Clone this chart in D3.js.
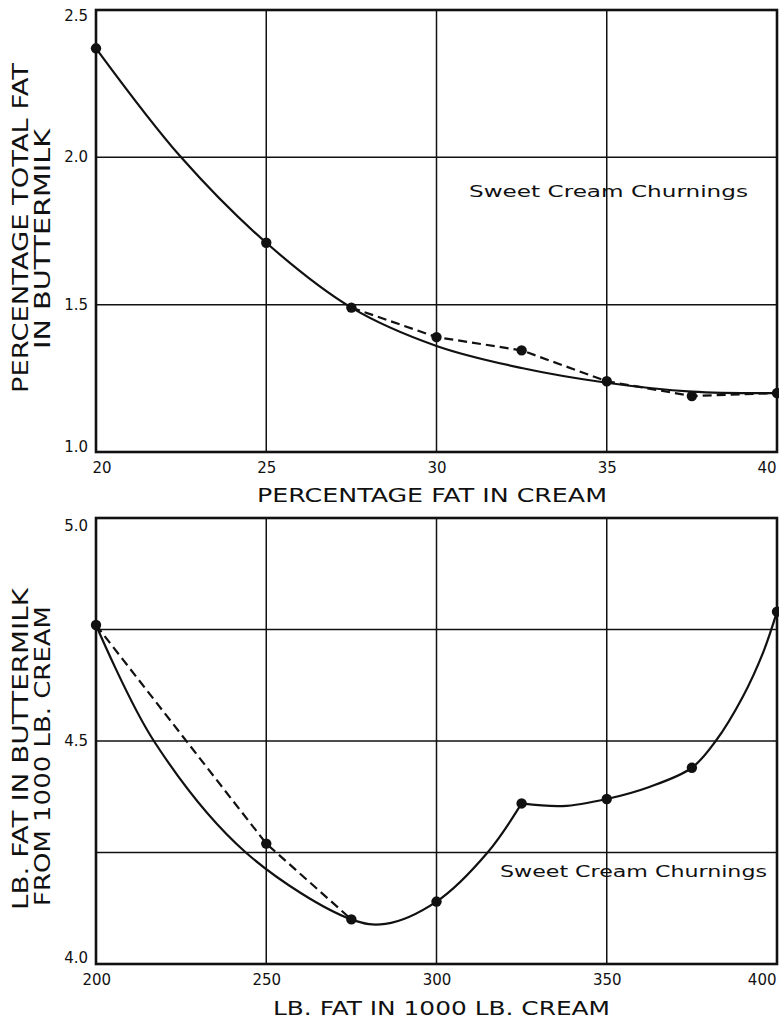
<!DOCTYPE html>
<html>
<head>
<meta charset="utf-8">
<script src="https://cdn.jsdelivr.net/npm/d3@7"></script>
<style>
  html, body { margin: 0; padding: 0; background: #fff; }
  svg { display: block; }
  text { font-family: "DejaVu Sans", sans-serif; fill: #111; }
  .tick text { font-size: 15px; }
</style>
</head>
<body>
<svg id="chart" width="779" height="1019"></svg>
<script>
// ---------- Top panel data ----------
const topPointsX = [20, 25, 27.5, 30, 32.5, 35, 37.5, 40];
const topPointsY = [2.37, 1.71, 1.49, 1.39, 1.345, 1.24, 1.19, 1.20];
const topCurveX = [20, 22.5, 25, 27.5, 30, 32.5, 35, 37.5, 40];
const topCurveY = [2.37, 2.00, 1.71, 1.49, 1.36, 1.285, 1.235, 1.205, 1.20];
const topDashX = [27.5, 30, 32.5, 35, 37.5, 40];
const topDashY = [1.49, 1.39, 1.345, 1.24, 1.19, 1.20];
const topXTicks = [20, 25, 30, 35, 40];
const topYTicks = [1.0, 1.5, 2.0, 2.5];
const topYGrid = [1.5, 2.0];
const topXGrid = [25, 30, 35];

// ---------- Bottom panel data ----------
const botPointsX = [200, 250, 275, 300, 325, 350, 375, 400];
const botPointsY = [4.76, 4.27, 4.10, 4.14, 4.36, 4.37, 4.44, 4.79];
const botCurveAX = [200, 217, 244, 275, 285, 300, 315, 325];
const botCurveAY = [4.76, 4.50, 4.25, 4.10, 4.09, 4.14, 4.25, 4.36];
const botCurveBX = [325, 337, 350, 362.5, 375, 382, 390, 396, 400];
const botCurveBY = [4.36, 4.354, 4.37, 4.397, 4.44, 4.50, 4.60, 4.70, 4.79];
const botDashX = [200, 250, 275];
const botDashY = [4.76, 4.27, 4.10];
const botXTicks = [200, 250, 300, 350, 400];
const botYTicks = [4.0, 4.5, 5.0];
const botYGrid = [4.25, 4.5, 4.75];
const botXGrid = [250, 300, 350];

const labelText = "Sweet Cream Churnings";

const svg = d3.select("#chart");
svg.append("rect").attr("width", 779).attr("height", 1019).attr("fill", "#fff");

function zip(xs, ys) { return xs.map((x, i) => ({x: x, y: ys[i]})); }

function panel(cfg) {
  const x = d3.scaleLinear().domain(cfg.xDomain).range([cfg.left, cfg.right]);
  const y = d3.scaleLinear().domain(cfg.yDomain).range([cfg.bottom, cfg.top]);
  const g = svg.append("g");

  // grid
  g.selectAll(".hg").data(cfg.yGrid).enter().append("line")
    .attr("x1", cfg.left).attr("x2", cfg.right)
    .attr("y1", d => y(d)).attr("y2", d => y(d))
    .attr("stroke", "#111").attr("stroke-width", 1.5);
  g.selectAll(".vg").data(cfg.xGrid).enter().append("line")
    .attr("y1", cfg.top).attr("y2", cfg.bottom)
    .attr("x1", d => x(d)).attr("x2", d => x(d))
    .attr("stroke", "#111").attr("stroke-width", 1.5);

  // frame
  g.append("rect").attr("x", cfg.left).attr("y", cfg.top)
    .attr("width", cfg.right - cfg.left).attr("height", cfg.bottom - cfg.top)
    .attr("fill", "none").attr("stroke", "#111").attr("stroke-width", 2.6);

  // axes (labels only)
  const xAxis = d3.axisBottom(x).tickValues(cfg.xTicks).tickSize(0).tickPadding(0)
    .tickFormat(d3.format("d"));
  const xa = g.append("g").attr("transform", `translate(0,${cfg.bottom})`).call(xAxis);
  xa.attr("font-size", 15).attr("font-family", "DejaVu Sans");
  xa.select(".domain").remove();
  xa.selectAll("text").attr("dy", null).attr("y", cfg.xTickDy)
    .attr("fill", "#111")
    .attr("dominant-baseline", "middle")
    .attr("text-anchor", (d, i) => i === 0 ? "start" : (i === cfg.xTicks.length - 1 ? "end" : "middle"))
    .attr("dx", (d, i) => i === 0 ? cfg.firstXdx : (i === cfg.xTicks.length - 1 ? -1 : 0));

  const yAxis = d3.axisLeft(y).tickValues(cfg.yTicks).tickSize(0).tickPadding(8)
    .tickFormat(d3.format(".1f"));
  const ya = g.append("g").attr("transform", `translate(${cfg.left},0)`).call(yAxis);
  ya.attr("font-size", 15).attr("font-family", "DejaVu Sans");
  ya.select(".domain").remove();
  ya.selectAll("text").attr("dy", null)
    .attr("fill", "#111")
    .attr("dominant-baseline", "middle")
    .attr("y", (d, i) => i === 0 ? cfg.firstYdy : (i === cfg.yTicks.length - 1 ? cfg.lastYdy : 0));

  // lines
  const line = d3.line().x(d => x(d.x)).y(d => y(d.y)).curve(d3.curveCatmullRom.alpha(0.5));
  cfg.curves.forEach(c => {
    g.append("path").attr("d", line(c)).attr("fill", "none")
      .attr("stroke", "#111").attr("stroke-width", 2.2);
  });
  const dline = d3.line().x(d => x(d.x)).y(d => y(d.y));
  g.append("path").attr("d", dline(cfg.dash)).attr("fill", "none")
    .attr("stroke", "#111").attr("stroke-width", 2.2).attr("stroke-dasharray", "9,5");

  // points
  g.selectAll(".pt").data(cfg.points).enter().append("circle")
    .attr("cx", d => x(d.x)).attr("cy", d => y(d.y)).attr("r", 5.2).attr("fill", "#111");

  // annotation
  g.append("text").attr("x", cfg.noteX).attr("y", cfg.noteY)
    .attr("font-size", 16).attr("textLength", cfg.noteLen).attr("lengthAdjust", "spacingAndGlyphs")
    .text(labelText);

  // x title
  g.append("text").attr("x", cfg.xTitleX).attr("y", cfg.xTitleY)
    .attr("font-size", 20).attr("textLength", cfg.xTitleLen).attr("lengthAdjust", "spacingAndGlyphs")
    .text(cfg.xTitle);

  // y title (two lines)
  cfg.yTitles.forEach(t => {
    g.append("text")
      .attr("transform", `translate(${t.x},${t.cy}) rotate(-90)`)
      .attr("text-anchor", "middle").attr("font-size", 21)
      .attr("textLength", t.len).attr("lengthAdjust", "spacingAndGlyphs")
      .text(t.text);
  });
}

panel({
  xDomain: [20, 40], yDomain: [1.0, 2.5],
  left: 96, right: 777, top: 10, bottom: 452,
  xTicks: topXTicks, yTicks: topYTicks, xGrid: topXGrid, yGrid: topYGrid,
  xTickDy: 16, firstXdx: -4, firstYdy: -5, lastYdy: 6,
  curves: [zip(topCurveX, topCurveY)],
  dash: zip(topDashX, topDashY),
  points: zip(topPointsX, topPointsY),
  noteX: 469, noteY: 197, noteLen: 279,
  xTitle: "PERCENTAGE FAT IN CREAM", xTitleX: 257, xTitleY: 502, xTitleLen: 350,
  yTitles: [
    {text: "PERCENTAGE TOTAL FAT", x: 28, cy: 228, len: 330},
    {text: "IN BUTTERMILK", x: 50, cy: 239, len: 220}
  ]
});

panel({
  xDomain: [200, 400], yDomain: [4.0, 5.0],
  left: 96, right: 777, top: 518, bottom: 964,
  xTicks: botXTicks, yTicks: botYTicks, xGrid: botXGrid, yGrid: botYGrid,
  xTickDy: 16, firstXdx: -14, firstYdy: -6, lastYdy: 8,
  curves: [zip(botCurveAX, botCurveAY), zip(botCurveBX, botCurveBY)],
  dash: zip(botDashX, botDashY),
  points: zip(botPointsX, botPointsY),
  noteX: 500, noteY: 877, noteLen: 267,
  xTitle: "LB. FAT IN 1000 LB. CREAM", xTitleX: 273, xTitleY: 1015, xTitleLen: 337,
  yTitles: [
    {text: "LB. FAT IN BUTTERMILK", x: 28, cy: 749, len: 322},
    {text: "FROM 1000 LB. CREAM", x: 50, cy: 756, len: 300}
  ]
});
</script>
</body>
</html>
